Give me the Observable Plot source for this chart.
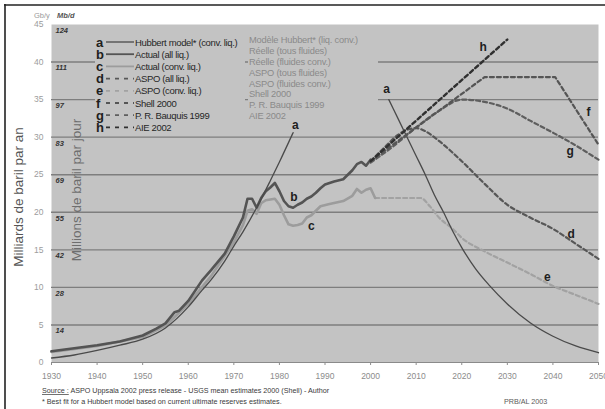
<!DOCTYPE html>
<html>
<head>
<meta charset="utf-8">
<script src="https://cdn.jsdelivr.net/npm/d3@7"></script>
<script src="https://cdn.jsdelivr.net/npm/@observablehq/plot@0.6"></script>
<style>
  body { margin: 0; background: #fff; }
  #chart { position: relative; width: 605px; height: 409px; }
  svg { font-family: "Liberation Sans", Arial, sans-serif; }
</style>
</head>
<body>
<div id="chart"></div>
<script>
// ---- Series (Gb/y) ----
// a: Hubbert model (conv. liq.), rising branch and falling branch
const hubbertRiseYears = [1930, 1935, 1940, 1945, 1950, 1955, 1960, 1963, 1965, 1968, 1970, 1972, 1975, 1978, 1980, 1983];
const hubbertRise      = [0.6, 1.0, 1.6, 2.3, 3.1, 4.6, 7.4, 9.6, 11, 13.5, 15.5, 17.4, 20.6, 24.2, 26.7, 30.6];
const hubbertFallYears = [2004, 2006, 2008, 2010, 2012, 2014, 2016, 2018, 2020, 2023, 2026, 2030, 2035, 2040, 2045, 2050];
const hubbertFall      = [35, 32.5, 30, 27.5, 25, 22.3, 20, 17.5, 15.3, 12.5, 10.3, 7.8, 5.3, 3.5, 2.2, 1.3];

// b: Actual (all liquids)
const actualAllYears = [1930, 1935, 1940, 1945, 1950, 1953, 1955, 1957, 1958, 1960, 1963, 1965, 1968, 1970, 1972, 1973, 1974, 1975, 1976, 1977, 1978, 1979, 1980, 1981, 1982, 1983, 1984, 1985, 1986, 1987, 1988, 1989, 1990, 1992, 1994, 1996, 1997, 1998, 1999, 2000];
const actualAll      = [1.5, 1.9, 2.3, 2.8, 3.6, 4.5, 5.2, 6.7, 6.9, 8.2, 10.9, 12.3, 14.5, 16.8, 19.3, 21.8, 21.8, 20.6, 21.9, 22.8, 23.3, 23.9, 22.8, 21.5, 20.8, 20.6, 21.0, 21.3, 21.8, 22.1, 22.6, 23.2, 23.7, 24.1, 24.4, 25.6, 26.4, 26.7, 26.2, 27.0];

// c: Actual (conventional liquids)
const actualConvYears = [1930, 1940, 1950, 1955, 1960, 1965, 1970, 1972, 1973, 1974, 1975, 1976, 1977, 1979, 1980, 1981, 1982, 1983, 1984, 1985, 1986, 1987, 1988, 1989, 1991, 1994, 1996, 1997, 1998, 1999, 2000, 2001];
const actualConv      = [1.4, 2.2, 3.4, 4.9, 7.8, 11.5, 16.0, 18.3, 20.2, 20.4, 19.8, 21.2, 21.6, 21.8, 21.0, 19.6, 18.4, 18.2, 18.3, 18.5, 19.3, 19.6, 20.2, 20.8, 21.1, 21.5, 22.2, 23.1, 22.6, 23.0, 23.2, 21.9];

// d: ASPO (all liquids)
const aspoAllYears = [2000, 2003, 2006, 2008, 2010, 2012, 2015, 2020, 2025, 2030, 2035, 2040, 2045, 2050];
const aspoAll      = [26.8, 28.6, 30.3, 31, 31.2, 30.8, 29.5, 26.8, 23.8, 21, 19.3, 17.8, 15.8, 13.8];

// e: ASPO (conventional liquids)
const aspoConvYears = [2001, 2011, 2013, 2015, 2018, 2020, 2025, 2030, 2035, 2040, 2045, 2050];
const aspoConv      = [21.9, 21.9, 20.8, 19.3, 17.8, 16.6, 14.8, 13.3, 11.8, 10.2, 9.0, 7.8];

// f: Shell 2000
const shellYears = [2000, 2025, 2040.5, 2050];
const shell      = [26.8, 38, 38, 29];

// g: P. R. Bauquis 1999
const bauquisYears = [2000, 2005, 2010, 2015, 2020, 2025, 2030, 2035, 2040, 2045, 2050];
const bauquis      = [26.6, 28.8, 31.3, 33.5, 35, 34.7, 33.8, 32.2, 30.6, 28.9, 27];

// h: AIE 2002
const aieYears = [2000, 2030];
const aie      = [26.8, 43];

// ---- Axis ticks ----
const yearTicks = d3.range(1930, 2051, 10);
const gbyTicks  = [0, 5, 10, 15, 20, 25, 30, 35, 40, 45];
const gridLines = [5, 10, 15, 20, 25, 30, 35, 40];
const mbdAt     = [5, 10, 15, 20, 25, 30, 35, 40, 45];
const mbdLabels = ["14", "28", "42", "55", "69", "83", "97", "111", "124"];

// ---- Curve letters ----
const tagText  = ["a", "a", "b", "c", "d", "e", "f", "g", "h"];
const tagYear  = [1983.5, 2003.5, 1983.2, 1987, 2044, 2038.8, 2047.8, 2043.8, 2024.7];
const tagValue = [31.6, 36.4, 22.0, 18.2, 17.1, 11.4, 33.3, 28.2, 42.0];

// ---- Legend ----
const legendKeys    = ["a", "b", "c", "d", "e", "f", "g", "h"];
const legendEnglish = ["Hubbert model* (conv. liq.)", "Actual (all liq.)", "Actual (conv. liq.)", "ASPO (all liq.)", "ASPO (conv. liq.)", "Shell 2000", "P. R. Bauquis 1999", "AIE 2002"];
const legendFrench  = ["Modèle Hubbert* (liq. conv.)", "Réelle (tous fluides)", "Réelle (fluides conv.)", "ASPO (tous fluides)", "ASPO (fluides conv.)", "Shell 2000", "P. R. Bauquis 1999", "AIE 2002"];

const toRows = (years, values) => years.map((year, i) => ({year, value: values[i]}));

const styles = {
  a: {stroke: "#4a4a4a", strokeWidth: 1.3},
  b: {stroke: "#545454", strokeWidth: 2.6},
  c: {stroke: "#9c9c9c", strokeWidth: 2.6},
  d: {stroke: "#575757", strokeWidth: 2.2, strokeDasharray: "4,3"},
  e: {stroke: "#a2a2a2", strokeWidth: 2.2, strokeDasharray: "4,3"},
  f: {stroke: "#555555", strokeWidth: 2.2, strokeDasharray: "4,3"},
  g: {stroke: "#5e5e5e", strokeWidth: 2.2, strokeDasharray: "4,3"},
  h: {stroke: "#303030", strokeWidth: 2.4, strokeDasharray: "4,3"}
};

const line = (rows, key, curve = "linear") =>
  Plot.line(rows, {x: "year", y: "value", curve, ...styles[key]});

const chart = Plot.plot({
  width: 605,
  height: 409,
  marginLeft: 51,
  marginRight: 7,
  marginTop: 24,
  marginBottom: 47,
  x: {domain: [1930, 2050]},
  y: {domain: [0, 45]},
  style: {fontFamily: "Liberation Sans, Arial, sans-serif", background: "transparent", overflow: "visible"},
  marks: [
    Plot.frame({fill: "#c3c3c3", stroke: null}),
    Plot.ruleY(gridLines, {stroke: "#7e7e7e", strokeWidth: 1.4}),
    Plot.ruleY([0], {stroke: "#8a8a8a", strokeWidth: 1}),
    Plot.axisX({ticks: yearTicks, tickFormat: "d", tickSize: 3, tickPadding: 7, fontSize: 8.5, color: "#8c8c8c", label: null}),
    Plot.axisY({ticks: gbyTicks, tickSize: 0, tickPadding: 8, fontSize: 8.5, color: "#9c9c9c", label: null}),
    Plot.text(mbdAt, {x: 1930, y: d => d, text: (d, i) => mbdLabels[i], dx: 4, dy: 6, textAnchor: "start",
      fontSize: 7.5, fontWeight: "bold", fontStyle: "italic", fill: "#333"}),
    line(toRows(aspoConvYears, aspoConv), "e", "monotone-x"),
    line(toRows(actualConvYears, actualConv), "c"),
    line(toRows(actualAllYears, actualAll), "b"),
    line(toRows(hubbertRiseYears, hubbertRise), "a", "monotone-x"),
    line(toRows(hubbertFallYears, hubbertFall), "a", "monotone-x"),
    line(toRows(aspoAllYears, aspoAll), "d", "monotone-x"),
    line(toRows(bauquisYears, bauquis), "g", "monotone-x"),
    line(toRows(shellYears, shell), "f"),
    line(toRows(aieYears, aie), "h"),
    Plot.text(tagText, {x: (d, i) => tagYear[i], y: (d, i) => tagValue[i], text: d => d,
      fontSize: 12, fontWeight: "bold", fill: "#1e1e1e"})
  ]
});

document.getElementById("chart").appendChild(chart);

// ---- Decorations drawn into the same SVG ----
const svg = d3.select(chart);
const deco = svg.append("g").attr("text-anchor", "start");

// outer frame (top and left edges)
deco.append("line").attr("x1", 4).attr("x2", 605).attr("y1", 5).attr("y2", 5).attr("stroke", "#222").attr("stroke-width", 1.6);
deco.append("line").attr("x1", 5).attr("x2", 5).attr("y1", 4).attr("y2", 409).attr("stroke", "#222").attr("stroke-width", 1.6);

// unit captions
deco.append("text").attr("x", 34).attr("y", 18).attr("font-size", 7.5).attr("fill", "#9a9a9a").text("Gb/y");
deco.append("text").attr("x", 57).attr("y", 18).attr("font-size", 7.5).attr("font-weight", "bold").attr("font-style", "italic").attr("fill", "#555").text("Mb/d");

// vertical titles
deco.append("text").attr("transform", "translate(23,197) rotate(-90)").attr("text-anchor", "middle")
  .attr("font-size", 13.5).attr("fill", "#555").text("Milliards de baril par an");
deco.append("text").attr("transform", "translate(81,190) rotate(-90)").attr("text-anchor", "middle")
  .attr("font-size", 13.5).attr("fill", "#6e6e6e").text("Millions de baril par jour");

// legend panels (same fill as the plot area, hiding the grid behind them)
const legend = deco.append("g");
legend.append("rect").attr("x", 95).attr("y", 32).attr("width", 150).attr("height", 101).attr("fill", "#c3c3c3");
legend.append("rect").attr("x", 248).attr("y", 32).attr("width", 130).attr("height", 90).attr("fill", "#c3c3c3");

legendKeys.forEach((key, i) => {
  const cy = 42 + i * 12.2;
  legend.append("text").attr("x", 96).attr("y", cy + 4.5).attr("font-size", 13).attr("font-weight", "bold")
    .attr("fill", "#1e1e1e").text(key);
  const s = styles[key];
  legend.append("line").attr("x1", 106).attr("x2", 134).attr("y1", cy).attr("y2", cy)
    .attr("stroke", s.stroke).attr("stroke-width", Math.min(s.strokeWidth, 1.8))
    .attr("stroke-dasharray", s.strokeDasharray ? "4,5" : null);
  legend.append("text").attr("x", 135).attr("y", cy + 3.5).attr("font-size", 9.5).attr("letter-spacing", -0.35)
    .attr("fill", "#262626").text(legendEnglish[i]);
  legend.append("text").attr("x", 249).attr("y", 40 + i * 10.8 + 3.3).attr("font-size", 9.3).attr("letter-spacing", -0.2)
    .attr("fill", "#8a8a8a").text(legendFrench[i]);
});

// source notes
const src = deco.append("text").attr("x", 42).attr("y", 393).attr("font-size", 7.2).attr("fill", "#3a3a3a");
src.append("tspan").attr("text-decoration", "underline").text("Source :");
src.append("tspan").text(" ASPO Uppsala 2002 press release - USGS mean estimates 2000 (Shell) - Author");
deco.append("text").attr("x", 42).attr("y", 404).attr("font-size", 7.2).attr("fill", "#3a3a3a")
  .text("* Best fit for a Hubbert model based on current ultimate reserves estimates.");
deco.append("text").attr("x", 504).attr("y", 404).attr("font-size", 7.2).attr("fill", "#5a5a5a").text("PRB/AL 2003");
</script>
</body>
</html>
